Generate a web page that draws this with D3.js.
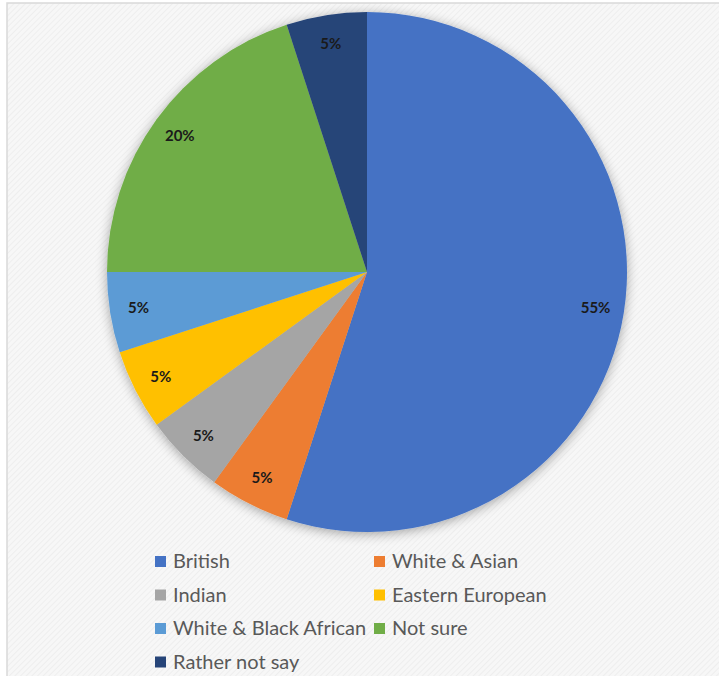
<!DOCTYPE html>
<html>
<head>
<meta charset="utf-8">
<script src="https://cdn.jsdelivr.net/npm/d3@7"></script>
<style>
  html, body { margin: 0; padding: 0; background: #ffffff; }
  svg { display: block; }
</style>
</head>
<body>
<div id="chart"></div>
<script>
// chart data
var categories = ["British", "White & Asian", "Indian", "Eastern European",
                  "White & Black African", "Not sure", "Rather not say"];
var values = [55, 5, 5, 5, 5, 20, 5];
var labels = ["55%", "5%", "5%", "5%", "5%", "20%", "5%"];
var colors = ["#4472c4", "#ed7d31", "#a5a5a5", "#ffc000", "#5b9bd5", "#70ad47", "#264478"];

var width = 719, height = 676;
var cx = 367, cy = 272, radius = 260;

var svg = d3.select("#chart").append("svg")
    .attr("width", width)
    .attr("height", height);

var defs = svg.append("defs");

// faint diagonal hatch behind everything
var pat = defs.append("pattern")
    .attr("id", "hatch")
    .attr("width", 4)
    .attr("height", 4)
    .attr("patternUnits", "userSpaceOnUse")
    .attr("patternTransform", "rotate(45)");
pat.append("rect").attr("width", 4).attr("height", 4).attr("fill", "#f7f7f7");
pat.append("rect").attr("width", 1).attr("height", 4).attr("fill", "#eeeeee");

var shadow = defs.append("filter")
    .attr("id", "shadow")
    .attr("x", "-20%").attr("y", "-20%")
    .attr("width", "140%").attr("height", "140%");
shadow.append("feGaussianBlur")
    .attr("in", "SourceAlpha")
    .attr("stdDeviation", 6);
shadow.append("feOffset").attr("dx", 0).attr("dy", 2).attr("result", "blur");
shadow.append("feComponentTransfer").append("feFuncA")
    .attr("type", "linear").attr("slope", 0.35);
var merge = shadow.append("feMerge");
merge.append("feMergeNode");
merge.append("feMergeNode").attr("in", "SourceGraphic");

// chart area with its border on the top and left
svg.append("rect")
    .attr("x", 7)
    .attr("y", 3)
    .attr("width", width)
    .attr("height", height)
    .attr("fill", "url(#hatch)")
    .attr("stroke", "#d9d9d9")
    .attr("stroke-width", 1.5);

var pie = d3.pie()
    .sort(null)
    .value(function(d) { return d; });

var arcs = pie(values);

var arc = d3.arc()
    .innerRadius(0)
    .outerRadius(radius);

var labelArc = d3.arc()
    .innerRadius(radius * 0.89)
    .outerRadius(radius * 0.89);

var g = svg.append("g")
    .attr("transform", "translate(" + cx + "," + cy + ")");

g.append("g")
    .attr("filter", "url(#shadow)")
    .selectAll("path")
    .data(arcs)
    .enter().append("path")
    .attr("d", arc)
    .attr("fill", function(d, i) { return colors[i]; });

g.selectAll("text.pct")
    .data(arcs)
    .enter().append("text")
    .attr("class", "pct")
    .attr("transform", function(d) { return "translate(" + labelArc.centroid(d) + ")"; })
    .attr("text-anchor", "middle")
    .attr("dy", "0.35em")
    .attr("font-family", "Lato, 'Open Sans', sans-serif")
    .attr("font-weight", "bold")
    .attr("font-size", "15px")
    .attr("fill", "#1a1a1a")
    .text(function(d, i) { return labels[i]; });

// legend, two columns
var legendX = [155, 374], legendY = 561, rowGap = 33.5;

var legend = svg.append("g")
    .selectAll("g")
    .data(categories)
    .enter().append("g")
    .attr("transform", function(d, i) {
        return "translate(" + legendX[i % 2] + "," + (legendY + Math.floor(i / 2) * rowGap) + ")";
    });

legend.append("rect")
    .attr("x", 0)
    .attr("y", -5)
    .attr("width", 11)
    .attr("height", 11)
    .attr("fill", function(d, i) { return colors[i]; });

legend.append("text")
    .attr("x", 18)
    .attr("dy", "0.36em")
    .attr("font-family", "Lato, 'Open Sans', sans-serif")
    .attr("font-size", "20px")
    .attr("fill", "#595959")
    .text(function(d) { return d; });
</script>
</body>
</html>
